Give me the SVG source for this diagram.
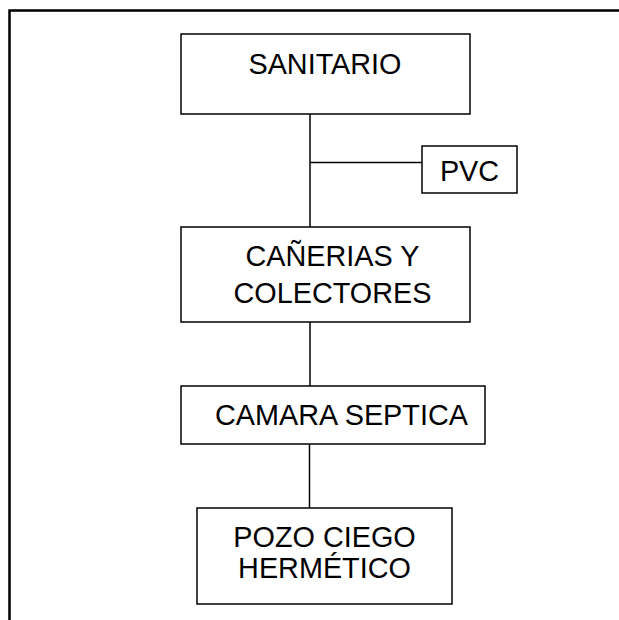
<svg xmlns="http://www.w3.org/2000/svg" width="619" height="620" viewBox="0 0 619 620">
<style>
.box{fill:#fff;stroke:#000;stroke-width:1.5}
.lbl{font-family:"Liberation Sans",Arial,sans-serif;font-size:28.8px;fill:#000;text-anchor:middle}
.con{stroke:#000;stroke-width:1.5;fill:none}
</style>
<rect width="619" height="620" fill="#fff"/>
<path d="M9.5,620 V10.5 H619" fill="none" stroke="#000" stroke-width="2.5"/>
<g id="connectors">
<line class="con" x1="310" y1="114" x2="310" y2="227"/>
<line class="con" x1="310" y1="162.5" x2="422" y2="162.5"/>
<line class="con" x1="310" y1="322" x2="310" y2="386"/>
<line class="con" x1="309.5" y1="444" x2="309.5" y2="508"/>
</g>
<g id="sanitario">
<rect class="box" x="181" y="34" width="289" height="80"/>
<text class="lbl" x="325" y="74">SANITARIO</text>
</g>
<g id="pvc">
<rect class="box" x="422" y="146" width="95" height="47"/>
<text class="lbl" x="469.5" y="181">PVC</text>
</g>
<g id="canerias">
<rect class="box" x="181" y="227" width="289" height="95"/>
<text class="lbl" x="332.5" y="266">CAÑERIAS Y</text>
<text class="lbl" x="332.5" y="303">COLECTORES</text>
</g>
<g id="camara">
<rect class="box" x="181" y="386" width="304" height="58"/>
<text class="lbl" x="341.5" y="425">CAMARA SEPTICA</text>
</g>
<g id="pozo">
<rect class="box" x="197" y="508" width="255" height="96"/>
<text class="lbl" x="324.5" y="547">POZO CIEGO</text>
<text class="lbl" x="324.5" y="578">HERMÉTICO</text>
</g>
</svg>
